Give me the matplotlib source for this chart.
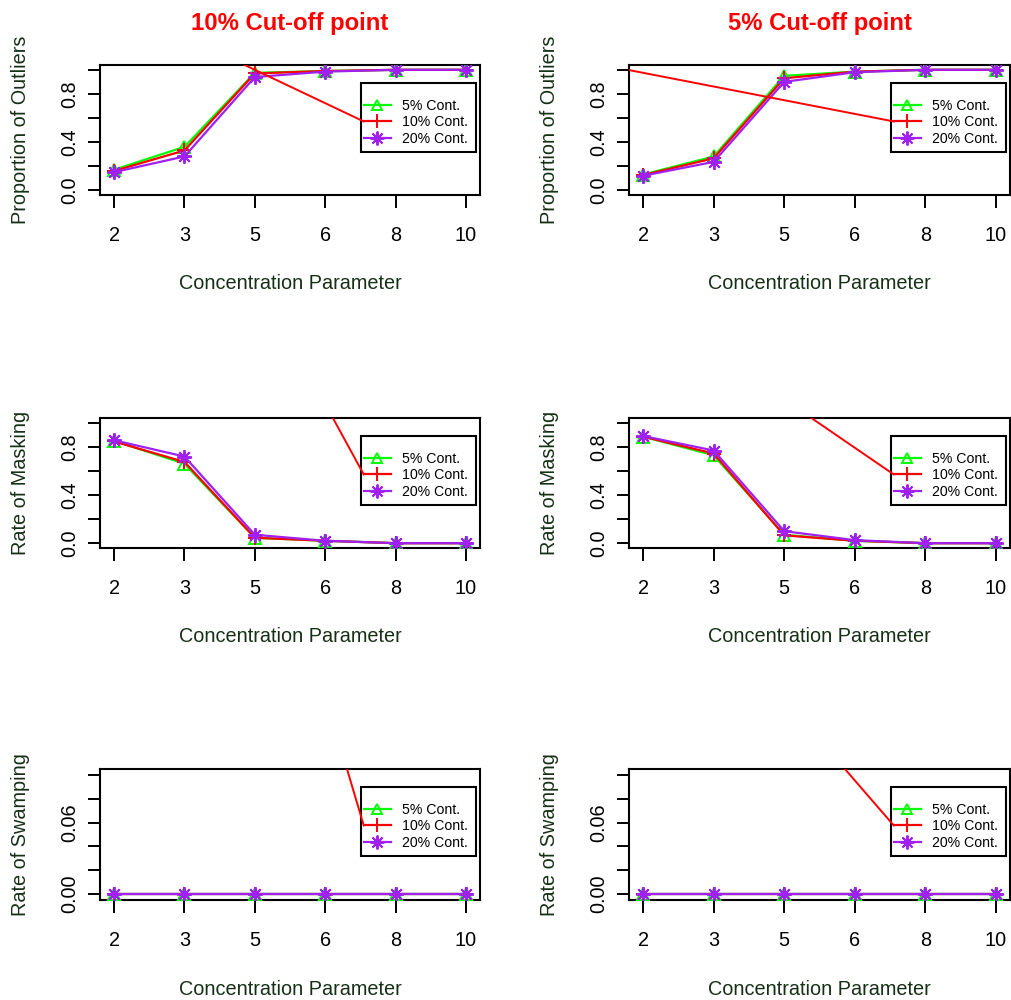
import numpy as np
import matplotlib
matplotlib.use("Agg")
import matplotlib.pyplot as plt
from matplotlib.patches import Rectangle

plt.rcParams['font.family'] = ['Liberation Sans', 'DejaVu Sans']

# ---------------- data ----------------
conc_labels = ['2', '3', '5', '6', '8', '10']
x_idx = [1, 2, 3, 4, 5, 6]
series_labels = ['5% Cont.', '10% Cont.', '20% Cont.']

prop10_c5 = [0.17, 0.36, 0.975, 0.99, 1.0, 1.0]
prop10_c10 = [0.16, 0.33, 0.97, 0.99, 1.0, 1.0]
prop10_c20 = [0.15, 0.28, 0.94, 0.985, 1.0, 1.0]

prop5_c5 = [0.13, 0.28, 0.95, 0.985, 1.0, 1.0]
prop5_c10 = [0.125, 0.265, 0.93, 0.985, 1.0, 1.0]
prop5_c20 = [0.12, 0.235, 0.90, 0.98, 1.0, 1.0]

mask10_c5 = [0.85, 0.66, 0.045, 0.02, 0.0, 0.0]
mask10_c10 = [0.845, 0.675, 0.045, 0.02, 0.0, 0.0]
mask10_c20 = [0.855, 0.72, 0.07, 0.02, 0.0, 0.0]

mask5_c5 = [0.885, 0.73, 0.07, 0.02, 0.0, 0.0]
mask5_c10 = [0.885, 0.745, 0.065, 0.02, 0.0, 0.0]
mask5_c20 = [0.89, 0.77, 0.10, 0.025, 0.0, 0.0]

swamp10_c5 = [0.0, 0.0, 0.0, 0.0, 0.0, 0.0]
swamp10_c10 = [0.0, 0.0, 0.0, 0.0, 0.0, 0.0]
swamp10_c20 = [0.0, 0.0, 0.0, 0.0, 0.0, 0.0]
swamp5_c5 = [0.0, 0.0, 0.0, 0.0, 0.0, 0.0]
swamp5_c10 = [0.0, 0.0, 0.0, 0.0, 0.0, 0.0]
swamp5_c20 = [0.0, 0.0, 0.0, 0.0, 0.0, 0.0]

col_titles = ['10% Cut-off point', '5% Cut-off point']
row_ylabels = ['Proportion of Outliers', 'Rate of Masking', 'Rate of Swamping']
xlabel_text = 'Concentration Parameter'

ytick_vals_rate = [0.0, 0.2, 0.4, 0.6, 0.8, 1.0]
ytick_labels_rate = ['0.0', '', '0.4', '', '0.8', '']
ytick_vals_swamp = [0.0, 0.02, 0.04, 0.06, 0.08, 0.10]
ytick_labels_swamp = ['0.00', '', '', '0.06', '', '']

# stray red segment start points (data coords), one per panel
stray_start_p1 = (2.82, 1.05)
stray_start_p2 = (0.78, 1.0)
stray_start_p3 = (4.10, 1.05)
stray_start_p4 = (3.36, 1.05)
stray_start_p5 = (4.31, 0.105)
stray_start_p6 = (3.86, 0.105)

panels = [
    [(prop10_c5, prop10_c10, prop10_c20), (prop5_c5, prop5_c10, prop5_c20)],
    [(mask10_c5, mask10_c10, mask10_c20), (mask5_c5, mask5_c10, mask5_c20)],
    [(swamp10_c5, swamp10_c10, swamp10_c20), (swamp5_c5, swamp5_c10, swamp5_c20)],
]
stray_starts = [[stray_start_p1, stray_start_p2],
                [stray_start_p3, stray_start_p4],
                [stray_start_p5, stray_start_p6]]

# ---------------- style ----------------
W, H = 1011, 1000
fig = plt.figure(figsize=(W / 100, H / 100), dpi=100)

col_left_px = [100, 629]
col_w_px = [380, 381]
row_top_px = [65, 418, 769]
row_h_px = [130, 130, 131]

colors = ['#00ff00', '#ff0000', '#a020f0']
markers = ['^', '+', (8, 2, 0)]
msizes = [8, 10.5, 10.5]
label_color = '#163016'
lw = 1.6

# legend frame padding (pixels) around legend content
pad_left, pad_right, pad_top, pad_bottom = 3, 8, 23, 13

axes = []
legs = []
for r in range(3):
    for c in range(2):
        left = col_left_px[c] / W
        bottom = 1 - (row_top_px[r] + row_h_px[r]) / H
        ax = fig.add_axes([left, bottom, col_w_px[c] / W, row_h_px[r] / H])
        data = panels[r][c]
        for k in range(3):
            ax.plot(x_idx, data[k], color=colors[k], lw=lw, marker=markers[k],
                    markersize=msizes[k], markerfacecolor='none',
                    markeredgecolor=colors[k], markeredgewidth=1.4,
                    label=series_labels[k], zorder=3 + k)
        ax.set_xlim(0.8, 6.2)
        if r < 2:
            ax.set_ylim(-0.04, 1.04)
            ax.set_yticks(ytick_vals_rate)
            ax.set_yticklabels(ytick_labels_rate)
        else:
            ax.set_ylim(-0.005, 0.105)
            ax.set_yticks(ytick_vals_swamp)
            ax.set_yticklabels(ytick_labels_swamp)
        ax.set_xticks(x_idx)
        ax.set_xticklabels(conc_labels)
        for sp in ax.spines.values():
            sp.set_linewidth(1.5)
        ax.tick_params(axis='x', length=9.5, width=1.4, pad=12.5, labelsize=14.3)
        ax.tick_params(axis='y', length=8.5, width=1.4, pad=6.5, labelsize=14.3)
        for t in ax.get_yticklabels():
            t.set_rotation(90)
            t.set_va('center')
        ax.set_xlabel(xlabel_text, fontsize=14.3, color=label_color)
        ax.xaxis.set_label_coords(0.5, -0.607)
        ax.set_ylabel(row_ylabels[r], fontsize=14.3, color=label_color)
        ax.yaxis.set_label_coords(-0.184, 0.5)
        if r == 0:
            ax.set_title(col_titles[c], color='#ff0000', fontsize=17.2,
                         fontweight='bold', pad=25.5)
        leg = ax.legend(loc='upper right',
                        bbox_to_anchor=(1 - 12 / col_w_px[c], 1 - 34 / row_h_px[r]),
                        fontsize=10.2, handlelength=1.9, handletextpad=0.8,
                        borderaxespad=0, borderpad=0, labelspacing=0.17,
                        frameon=False, markerscale=0.95)
        leg.set_zorder(10)
        axes.append((ax, r, c))
        legs.append(leg)

fig.canvas.draw()

for (ax, r, c), leg in zip(axes, legs):
    # legend frame built around the legend's own content
    texts = leg.get_texts()
    tb = [t.get_window_extent() for t in texts]
    hb = []
    for h in leg.legend_handles:
        xd, yd = h.get_data()
        hb.append(h.get_transform().transform(np.column_stack([xd, yd])))
    x0 = min(p[:, 0].min() for p in hb) - pad_left
    x1 = max(b.x1 for b in tb) + pad_right
    y1 = (tb[0].y0 + tb[0].y1) / 2 + pad_top
    y0 = (tb[-1].y0 + tb[-1].y1) / 2 - pad_bottom
    inv = ax.transAxes.inverted()
    (ax0, ay0), (ax1, ay1) = inv.transform([(x0, y0), (x1, y1)])
    ax.add_patch(Rectangle((ax0, ay0), ax1 - ax0, ay1 - ay0, transform=ax.transAxes,
                           facecolor='white', edgecolor='black', linewidth=1.5,
                           zorder=9, clip_on=False))

    # stray red segment ending at the left end of the legend's red line
    pts = hb[1]
    end_disp = pts[np.argmin(pts[:, 0])]
    ex, ey = ax.transData.inverted().transform(end_disp)
    sx, sy = stray_starts[r][c]
    ax.plot([sx, ex], [sy, ey], color='#ff0000', lw=1.4, zorder=11, clip_on=True)

fig.savefig('out.png', dpi=100)
